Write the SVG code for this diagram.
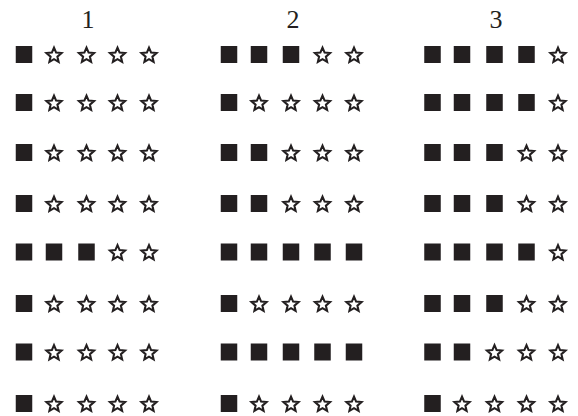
<svg xmlns="http://www.w3.org/2000/svg" xmlns:xlink="http://www.w3.org/1999/xlink" width="578" height="416" viewBox="0 0 578 416">
<style>
.lbl{font-family:"Liberation Serif","Times New Roman",serif;font-size:26px;fill:#231f20;text-anchor:middle}
.sq{fill:#231f20}
.st{fill:#fff;stroke:#231f20;stroke-width:2.1;stroke-linejoin:miter}
</style>
<defs>
<rect id="S" class="sq" x="-8.25" y="-8.5" width="16.5" height="17"/>
<polygon id="T" class="st" points="0,-7.8 2.12,-2.91 7.5,-2.45 3.42,1.11 4.6,6.35 0,3.6 -4.6,6.35 -3.42,1.11 -7.5,-2.45 -2.12,-2.91" transform="translate(0,1)"/>
</defs>
<rect width="578" height="416" fill="#fff"/>
<g id="labels">
<text class="lbl" x="88" y="28">1</text>
<text class="lbl" x="293" y="28">2</text>
<text class="lbl" x="496" y="28">3</text>
</g>
<g id="col1">
<g id="c1r1"><use xlink:href="#S" x="24" y="54.5"/><use xlink:href="#T" x="54" y="54.5"/><use xlink:href="#T" x="86.5" y="54.5"/><use xlink:href="#T" x="117.5" y="54.5"/><use xlink:href="#T" x="149" y="54.5"/></g>
<g id="c1r2"><use xlink:href="#S" x="24" y="102.5"/><use xlink:href="#T" x="54" y="102.5"/><use xlink:href="#T" x="86.5" y="102.5"/><use xlink:href="#T" x="117.5" y="102.5"/><use xlink:href="#T" x="149" y="102.5"/></g>
<g id="c1r3"><use xlink:href="#S" x="24" y="152.5"/><use xlink:href="#T" x="54" y="152.5"/><use xlink:href="#T" x="86.5" y="152.5"/><use xlink:href="#T" x="117.5" y="152.5"/><use xlink:href="#T" x="149" y="152.5"/></g>
<g id="c1r4"><use xlink:href="#S" x="24" y="203.5"/><use xlink:href="#T" x="54" y="203.5"/><use xlink:href="#T" x="86.5" y="203.5"/><use xlink:href="#T" x="117.5" y="203.5"/><use xlink:href="#T" x="149" y="203.5"/></g>
<g id="c1r5"><use xlink:href="#S" x="24" y="252"/><use xlink:href="#S" x="54" y="252"/><use xlink:href="#S" x="86.5" y="252"/><use xlink:href="#T" x="117.5" y="252"/><use xlink:href="#T" x="149" y="252"/></g>
<g id="c1r6"><use xlink:href="#S" x="24" y="303.5"/><use xlink:href="#T" x="54" y="303.5"/><use xlink:href="#T" x="86.5" y="303.5"/><use xlink:href="#T" x="117.5" y="303.5"/><use xlink:href="#T" x="149" y="303.5"/></g>
<g id="c1r7"><use xlink:href="#S" x="24" y="352"/><use xlink:href="#T" x="54" y="352"/><use xlink:href="#T" x="86.5" y="352"/><use xlink:href="#T" x="117.5" y="352"/><use xlink:href="#T" x="149" y="352"/></g>
<g id="c1r8"><use xlink:href="#S" x="24" y="403.5"/><use xlink:href="#T" x="54" y="403.5"/><use xlink:href="#T" x="86.5" y="403.5"/><use xlink:href="#T" x="117.5" y="403.5"/><use xlink:href="#T" x="149" y="403.5"/></g>
</g>
<g id="col2">
<g id="c2r1"><use xlink:href="#S" x="229" y="54.5"/><use xlink:href="#S" x="259" y="54.5"/><use xlink:href="#S" x="291" y="54.5"/><use xlink:href="#T" x="322.5" y="54.5"/><use xlink:href="#T" x="354" y="54.5"/></g>
<g id="c2r2"><use xlink:href="#S" x="229" y="102.5"/><use xlink:href="#T" x="259" y="102.5"/><use xlink:href="#T" x="291" y="102.5"/><use xlink:href="#T" x="322.5" y="102.5"/><use xlink:href="#T" x="354" y="102.5"/></g>
<g id="c2r3"><use xlink:href="#S" x="229" y="152.5"/><use xlink:href="#S" x="259" y="152.5"/><use xlink:href="#T" x="291" y="152.5"/><use xlink:href="#T" x="322.5" y="152.5"/><use xlink:href="#T" x="354" y="152.5"/></g>
<g id="c2r4"><use xlink:href="#S" x="229" y="203.5"/><use xlink:href="#S" x="259" y="203.5"/><use xlink:href="#T" x="291" y="203.5"/><use xlink:href="#T" x="322.5" y="203.5"/><use xlink:href="#T" x="354" y="203.5"/></g>
<g id="c2r5"><use xlink:href="#S" x="229" y="252"/><use xlink:href="#S" x="259" y="252"/><use xlink:href="#S" x="291" y="252"/><use xlink:href="#S" x="322.5" y="252"/><use xlink:href="#S" x="354" y="252"/></g>
<g id="c2r6"><use xlink:href="#S" x="229" y="303.5"/><use xlink:href="#T" x="259" y="303.5"/><use xlink:href="#T" x="291" y="303.5"/><use xlink:href="#T" x="322.5" y="303.5"/><use xlink:href="#T" x="354" y="303.5"/></g>
<g id="c2r7"><use xlink:href="#S" x="229" y="352"/><use xlink:href="#S" x="259" y="352"/><use xlink:href="#S" x="291" y="352"/><use xlink:href="#S" x="322.5" y="352"/><use xlink:href="#S" x="354" y="352"/></g>
<g id="c2r8"><use xlink:href="#S" x="229" y="403.5"/><use xlink:href="#T" x="259" y="403.5"/><use xlink:href="#T" x="291" y="403.5"/><use xlink:href="#T" x="322.5" y="403.5"/><use xlink:href="#T" x="354" y="403.5"/></g>
</g>
<g id="col3">
<g id="c3r1"><use xlink:href="#S" x="432.5" y="54.5"/><use xlink:href="#S" x="462" y="54.5"/><use xlink:href="#S" x="494.5" y="54.5"/><use xlink:href="#S" x="526.5" y="54.5"/><use xlink:href="#T" x="558" y="54.5"/></g>
<g id="c3r2"><use xlink:href="#S" x="432.5" y="102.5"/><use xlink:href="#S" x="462" y="102.5"/><use xlink:href="#S" x="494.5" y="102.5"/><use xlink:href="#S" x="526.5" y="102.5"/><use xlink:href="#T" x="558" y="102.5"/></g>
<g id="c3r3"><use xlink:href="#S" x="432.5" y="152.5"/><use xlink:href="#S" x="462" y="152.5"/><use xlink:href="#S" x="494.5" y="152.5"/><use xlink:href="#T" x="526.5" y="152.5"/><use xlink:href="#T" x="558" y="152.5"/></g>
<g id="c3r4"><use xlink:href="#S" x="432.5" y="203.5"/><use xlink:href="#S" x="462" y="203.5"/><use xlink:href="#S" x="494.5" y="203.5"/><use xlink:href="#T" x="526.5" y="203.5"/><use xlink:href="#T" x="558" y="203.5"/></g>
<g id="c3r5"><use xlink:href="#S" x="432.5" y="252"/><use xlink:href="#S" x="462" y="252"/><use xlink:href="#S" x="494.5" y="252"/><use xlink:href="#S" x="526.5" y="252"/><use xlink:href="#T" x="558" y="252"/></g>
<g id="c3r6"><use xlink:href="#S" x="432.5" y="303.5"/><use xlink:href="#S" x="462" y="303.5"/><use xlink:href="#S" x="494.5" y="303.5"/><use xlink:href="#T" x="526.5" y="303.5"/><use xlink:href="#T" x="558" y="303.5"/></g>
<g id="c3r7"><use xlink:href="#S" x="432.5" y="352"/><use xlink:href="#S" x="462" y="352"/><use xlink:href="#T" x="494.5" y="352"/><use xlink:href="#T" x="526.5" y="352"/><use xlink:href="#T" x="558" y="352"/></g>
<g id="c3r8"><use xlink:href="#S" x="432.5" y="403.5"/><use xlink:href="#T" x="462" y="403.5"/><use xlink:href="#T" x="494.5" y="403.5"/><use xlink:href="#T" x="526.5" y="403.5"/><use xlink:href="#T" x="558" y="403.5"/></g>
</g>
</svg>
